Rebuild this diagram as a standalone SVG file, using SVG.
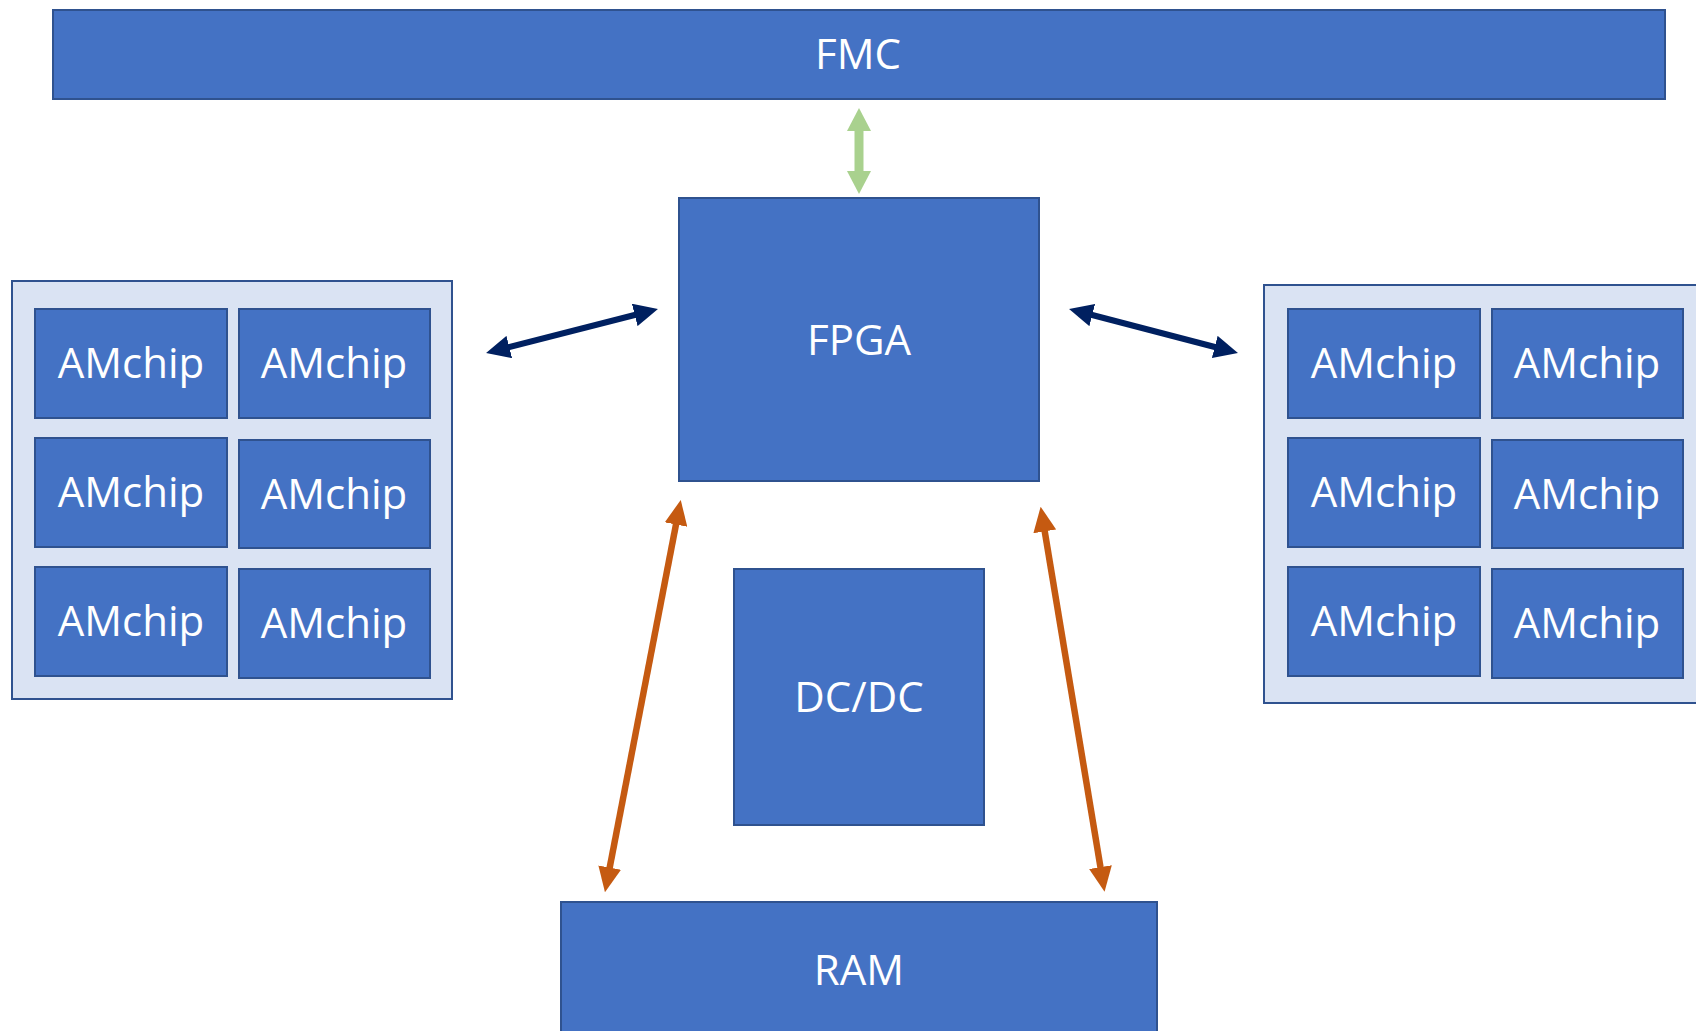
<svg xmlns="http://www.w3.org/2000/svg" width="1696" height="1031" viewBox="0 0 1696 1031">
<style>
.box{fill:#4472C4;stroke:#2F528F;stroke-width:2}
.cont{fill:#DAE3F3;stroke:#2F528F;stroke-width:2}
.lbl{font-family:"Open Sans","Noto Sans",sans-serif;font-size:42px;fill:#FFFFFF;text-anchor:middle}
.g{stroke:#A9D18E;stroke-width:9;fill:none}
.n{stroke:#002060;stroke-width:6;fill:none}
.o{stroke:#C55A11;stroke-width:6.5;fill:none}
</style>
<defs>
<marker id="mg" markerUnits="userSpaceOnUse" markerWidth="23" markerHeight="24" refX="9" refY="12" orient="auto-start-reverse"><path d="M0,0 L23,12 L0,24 z" fill="#A9D18E"/></marker>
<marker id="mn" markerUnits="userSpaceOnUse" markerWidth="24" markerHeight="23" refX="10" refY="11.5" orient="auto-start-reverse"><path d="M0,0 L24,11.5 L0,23 z" fill="#002060"/></marker>
<marker id="mo" markerUnits="userSpaceOnUse" markerWidth="25" markerHeight="23" refX="10" refY="11.5" orient="auto-start-reverse"><path d="M0,0 L25,11.5 L0,23 z" fill="#C55A11"/></marker>
</defs>
<rect width="1696" height="1031" fill="#FFFFFF"/>
<g id="fmc"><rect class="box" x="53" y="10" width="1612" height="89"/><text class="lbl" x="858" y="69">FMC</text></g>
<g id="fpga"><rect class="box" x="679" y="198" width="360" height="283"/><text class="lbl" x="859" y="355">FPGA</text></g>
<g id="dcdc"><rect class="box" x="734" y="569" width="250" height="256"/><text class="lbl" x="859" y="712">DC/DC</text></g>
<g id="ram"><rect class="box" x="561" y="902" width="596" height="150"/><text class="lbl" x="859" y="985">RAM</text></g>
<g id="left-group">
<rect class="cont" x="12" y="281" width="440" height="418"/>
<g id="l1"><rect class="box" x="35" y="309" width="192" height="109"/><text class="lbl" x="131" y="378">AMchip</text></g>
<g id="l2"><rect class="box" x="239" y="309" width="191" height="109"/><text class="lbl" x="334" y="378">AMchip</text></g>
<g id="l3"><rect class="box" x="35" y="438" width="192" height="109"/><text class="lbl" x="131" y="507">AMchip</text></g>
<g id="l4"><rect class="box" x="239" y="440" width="191" height="108"/><text class="lbl" x="334" y="509">AMchip</text></g>
<g id="l5"><rect class="box" x="35" y="567" width="192" height="109"/><text class="lbl" x="131" y="636">AMchip</text></g>
<g id="l6"><rect class="box" x="239" y="569" width="191" height="109"/><text class="lbl" x="334" y="638">AMchip</text></g>
</g>
<g id="right-group">
<rect class="cont" x="1264" y="285" width="450" height="418"/>
<g id="r1"><rect class="box" x="1288" y="309" width="192" height="109"/><text class="lbl" x="1384" y="378">AMchip</text></g>
<g id="r2"><rect class="box" x="1492" y="309" width="191" height="109"/><text class="lbl" x="1587" y="378">AMchip</text></g>
<g id="r3"><rect class="box" x="1288" y="438" width="192" height="109"/><text class="lbl" x="1384" y="507">AMchip</text></g>
<g id="r4"><rect class="box" x="1492" y="440" width="191" height="108"/><text class="lbl" x="1587" y="509">AMchip</text></g>
<g id="r5"><rect class="box" x="1288" y="567" width="192" height="109"/><text class="lbl" x="1384" y="636">AMchip</text></g>
<g id="r6"><rect class="box" x="1492" y="569" width="191" height="109"/><text class="lbl" x="1587" y="638">AMchip</text></g>
</g>
<g id="connectors">
<line class="g" x1="859" y1="122" x2="859" y2="180" marker-start="url(#mg)" marker-end="url(#mg)"/>
<line class="n" x1="499.6" y1="349.5" x2="644.4" y2="312.5" marker-start="url(#mn)" marker-end="url(#mn)"/>
<line class="n" x1="1082.6" y1="312.5" x2="1224.4" y2="349.5" marker-start="url(#mn)" marker-end="url(#mn)"/>
<line class="o" x1="607.8" y1="877.4" x2="677.9" y2="514.7" marker-start="url(#mo)" marker-end="url(#mo)"/>
<line class="o" x1="1043.1" y1="521.5" x2="1102.1" y2="877.0" marker-start="url(#mo)" marker-end="url(#mo)"/>
</g>
</svg>
